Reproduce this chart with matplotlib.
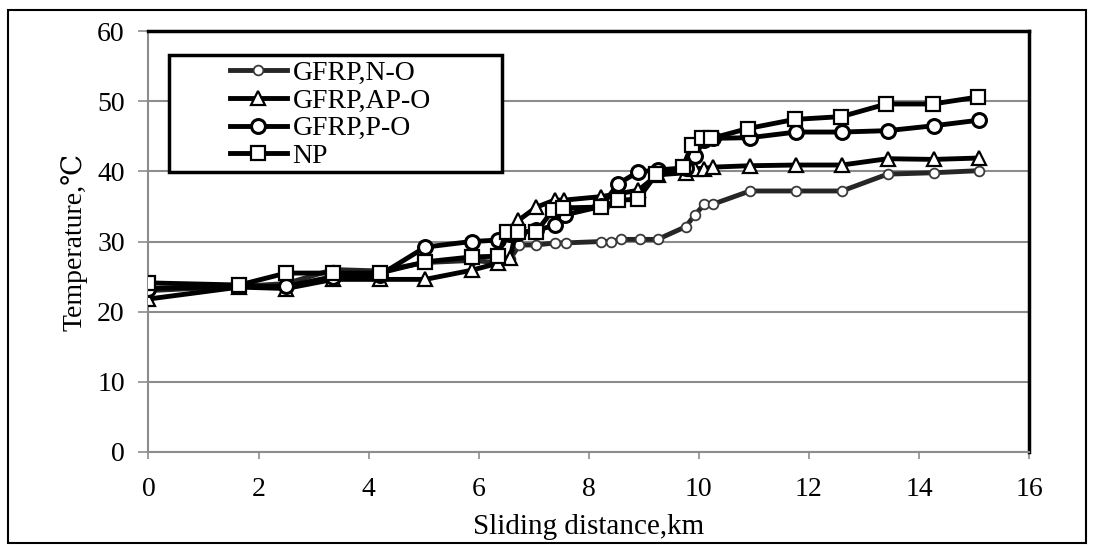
import matplotlib.pyplot as plt
from matplotlib.patches import Rectangle

plt.rcParams["font.family"] = ["Liberation Serif", "DejaVu Serif", "DejaVu Sans", "Noto Sans CJK SC"]
plt.rcParams["font.size"] = 20

# GFRP, N-O
x_no = [0, 1.65, 2.5, 3.36, 4.2, 5.03, 5.87, 6.35, 6.57, 6.74, 7.05, 7.38, 7.58,
        8.23, 8.41, 8.59, 8.93, 9.25, 9.76, 9.93, 10.1, 10.25, 10.93, 11.77, 12.6,
        13.43, 14.27, 15.1]
y_no = [23.0, 23.6, 24.0, 26.0, 25.8, 27.0, 27.3, 27.0, 27.5, 29.5, 29.5, 29.8, 29.8,
        30.0, 30.0, 30.3, 30.3, 30.3, 32.1, 33.8, 35.3, 35.3, 37.2, 37.2, 37.2,
        39.6, 39.8, 40.1]

# GFRP, AP-O
x_ap = [0, 1.65, 2.5, 3.36, 4.2, 5.03, 5.87, 6.35, 6.57, 6.72, 7.05, 7.38, 7.55,
        8.23, 8.9, 9.25, 9.76, 9.93, 10.09, 10.25, 10.93, 11.77, 12.6, 13.43, 14.27, 15.1]
y_ap = [21.8, 23.5, 23.3, 24.6, 24.6, 24.6, 25.9, 26.9, 27.6, 33.0, 34.9, 35.9, 35.9,
        36.4, 37.3, 39.5, 39.8, 40.4, 40.4, 40.6, 40.8, 40.9, 40.9, 41.8, 41.7, 41.9]

# GFRP, P-O
x_po = [0, 1.65, 2.5, 3.36, 4.2, 5.03, 5.87, 6.35, 6.57, 6.72, 7.05, 7.38, 7.57,
        8.23, 8.53, 8.89, 9.25, 9.76, 9.93, 10.1, 10.25, 10.93, 11.77, 12.6, 13.43,
        14.27, 15.1]
y_po = [23.3, 23.6, 23.6, 25.0, 25.2, 29.2, 30.0, 30.2, 31.0, 31.2, 31.6, 32.3, 33.8,
        35.0, 38.2, 39.9, 40.2, 40.5, 42.2, 44.5, 44.7, 44.8, 45.6, 45.6, 45.8,
        46.5, 47.3]

# NP
x_np = [0, 1.65, 2.5, 3.36, 4.2, 5.03, 5.87, 6.35, 6.51, 6.71, 7.05, 7.35, 7.54,
        8.23, 8.53, 8.89, 9.23, 9.71, 9.87, 10.05, 10.23, 10.89, 11.74, 12.59, 13.41,
        14.25, 15.08]
y_np = [24.1, 23.8, 25.5, 25.5, 25.5, 27.1, 27.8, 27.9, 31.4, 31.4, 31.4, 34.5, 34.8,
        34.9, 35.9, 36.0, 39.6, 40.6, 43.7, 44.7, 44.7, 46.1, 47.4, 47.8, 49.6,
        49.6, 50.6]

fig = plt.figure(figsize=(10.94, 5.47), dpi=100)
ax = fig.add_axes([0.1357, 0.1737, 0.8049, 0.7696])

ax.plot(x_no, y_no, "-o", color='#262626', linewidth=3.5, markersize=7,
        markerfacecolor='white', markeredgecolor='#3a3a3a', markeredgewidth=1.3,
        label='GFRP,N-O', zorder=3)
ax.plot(x_ap, y_ap, "-^", color='black', linewidth=3.5, markersize=10,
        markerfacecolor='white', markeredgewidth=1.6, label='GFRP,AP-O', zorder=3)
ax.plot(x_po, y_po, "-o", color='black', linewidth=3.5, markersize=10,
        markerfacecolor='white', markeredgewidth=2.2, label='GFRP,P-O', zorder=3)
ax.plot(x_np, y_np, "-s", color='black', linewidth=3.5, markersize=10,
        markerfacecolor='white', markeredgewidth=1.6, label='NP', zorder=3)

ax.set_xlim(0, 16)
ax.set_ylim(0, 60)
ax.set_xticks(range(0, 17, 2))
ax.set_yticks(range(0, 61, 10))
ax.grid(color='#8c8c8c', axis='y', linewidth=1.5)
ax.set_axisbelow(True)

for s in ['left', 'bottom']:
    ax.spines[s].set_color('#8c8c8c')
    ax.spines[s].set_linewidth(1.5)
for s in ['top', 'right']:
    ax.spines[s].set_color('black')
    ax.spines[s].set_linewidth(2.5)
ax.tick_params(axis='x', direction='out', length=5, width=1.2, color='#8c8c8c', pad=13)
ax.tick_params(axis='y', direction='out', length=7, width=1.2, color='#8c8c8c', pad=10)

ax.set_xlabel('Sliding distance,km', fontsize=21, labelpad=9)
ax.set_ylabel('Temperature,\u2103', fontsize=20, labelpad=7)

# legend box
box = Rectangle((0.0233, 0.665), 0.378, 0.278, transform=ax.transAxes,
                facecolor='white', edgecolor='black', linewidth=2.5, zorder=4)
ax.add_patch(box)
leg = ax.legend(loc='upper left', bbox_to_anchor=(0.0926, 0.93), frameon=False,
                borderpad=0, borderaxespad=0, handlelength=2.05, handletextpad=0.2,
                labelspacing=0.08, fontsize=20)
leg.set_zorder(5)

# outer frame
fig.patches.append(Rectangle((8 / 1094, 1 - 543 / 547), 1078 / 1094, 533 / 547,
                             transform=fig.transFigure, fill=False,
                             edgecolor='black', linewidth=1.5))

plt.savefig('out.png')
